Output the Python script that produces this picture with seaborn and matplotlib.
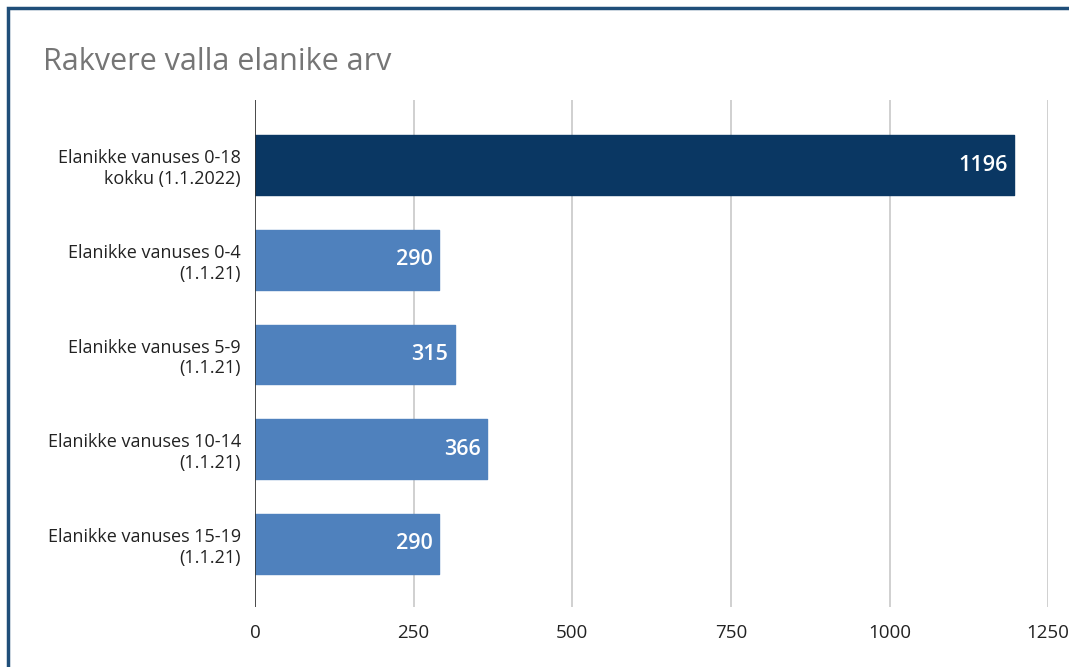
import matplotlib
matplotlib.use("Agg")
import matplotlib.pyplot as plt
import seaborn as sns
import pandas as pd
from matplotlib.patches import Rectangle

# data
categories = [
    "Elanikke vanuses 0-18\nkokku (1.1.2022)",
    "Elanikke vanuses 0-4\n(1.1.21)",
    "Elanikke vanuses 5-9\n(1.1.21)",
    "Elanikke vanuses 10-14\n(1.1.21)",
    "Elanikke vanuses 15-19\n(1.1.21)",
]
values = [1196, 290, 315, 366, 290]
bar_colors = ["#0a3763", "#4f81bd", "#4f81bd", "#4f81bd", "#4f81bd"]
x_ticks = [0, 250, 500, 750, 1000, 1250]

df = pd.DataFrame({"cat": categories, "val": values})

sns.set_style("white")
plt.rcParams["font.family"] = ["Open Sans", "DejaVu Sans"]

fig = plt.figure(figsize=(10.69, 6.67), dpi=100)
ax = fig.add_axes([0.2385, 0.09, 0.742, 0.76])

sns.barplot(data=df, x="val", y="cat", hue="cat", palette=bar_colors,
            legend=False, width=0.63, saturation=1, ax=ax, zorder=3)

for bar, v in zip(ax.patches, values):
    bar.set_edgecolor(bar.get_facecolor())
    bar.set_linewidth(1.0)
    bar.set_joinstyle("round")
    ax.text(bar.get_width() - 10, bar.get_y() + bar.get_height() / 2, str(v),
            ha="right", va="center", color="white", fontsize=15.5,
            fontweight="semibold", zorder=4)

ax.set_xlim(0, 1250)
ax.set_ylim(4.665, -0.686)
ax.set_xticks(x_ticks)
ax.set_xticklabels([str(t) for t in x_ticks], fontsize=13.5, color="#222222")
ax.tick_params(axis="x", length=0, pad=12)
ax.tick_params(axis="y", length=0, pad=10, labelsize=13, labelcolor="#222222")
for lab in ax.get_yticklabels():
    lab.set_horizontalalignment("right")
    lab.set_multialignment("right")
ax.set_xlabel("")
ax.set_ylabel("")
ax.xaxis.grid(True, color="#c8c8c8", linewidth=1.2, zorder=0)
ax.axvline(0, color="#333333", linewidth=1.2, zorder=5)
for s in ax.spines.values():
    s.set_visible(False)

fig.text(43 / 1069, 1 - 62 / 667, "Rakvere valla elanike arv", fontsize=22,
         color="#757575", va="center", ha="left")

# frame border
fig.patches.append(Rectangle((8 / 1069, -0.2), 1.2, 1.2 - 8 / 667,
                             transform=fig.transFigure, fill=False,
                             edgecolor="#1f4e79", linewidth=2.5))

fig.savefig("out.png", dpi=100)
